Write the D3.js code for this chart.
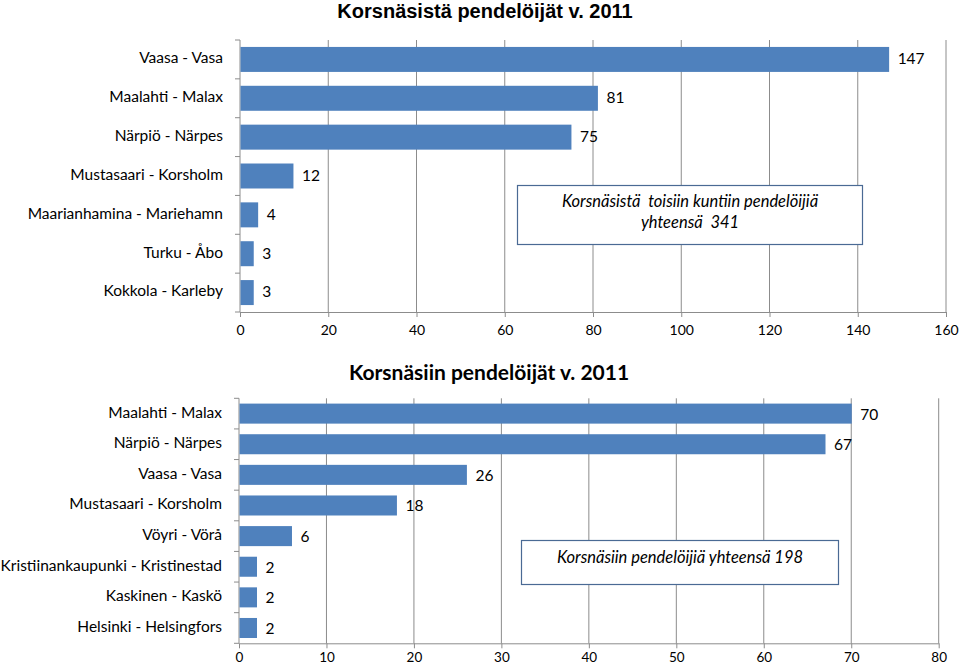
<!DOCTYPE html>
<html><head><meta charset="utf-8">
<script src="https://cdn.jsdelivr.net/npm/d3@7"></script>
<style>
body{margin:0;background:#fff;}
svg text{font-family:Lato,"Open Sans",sans-serif;fill:#000;}
</style></head>
<body>
<svg id="c" width="959" height="667"></svg>
<script>
// Chart 1: from Korsnäs
const title1 = "Korsnäsistä pendelöijät v. 2011";
const categories1 = ["Vaasa - Vasa","Maalahti - Malax","Närpiö - Närpes","Mustasaari - Korsholm","Maarianhamina - Mariehamn","Turku - Åbo","Kokkola - Karleby"];
const values1 = [147,81,75,12,4,3,3];
const ticks1 = [0,20,40,60,80,100,120,140,160];
const note1 = ["Korsnäsistä  toisiin kuntiin pendelöijiä","yhteensä  341"];

// Chart 2: to Korsnäs
const title2 = "Korsnäsiin pendelöijät v. 2011";
const categories2 = ["Maalahti - Malax","Närpiö - Närpes","Vaasa - Vasa","Mustasaari - Korsholm","Vöyri - Vörå","Kristiinankaupunki - Kristinestad","Kaskinen - Kaskö","Helsinki - Helsingfors"];
const values2 = [70,67,26,18,6,2,2,2];
const ticks2 = [0,10,20,30,40,50,60,70,80];
const note2 = ["Korsnäsiin pendelöijiä yhteensä 198"];

const svg = d3.select("#c");
const BAR = "#4F81BD", GRID = "#8C8C8C", BOX = "#4A6A94";

function drawChart(o){
  const g = svg.append("g");
  const x = d3.scaleLinear().domain([0, d3.max(o.ticks)]).range([o.x0, o.x1]);
  const y = d3.scaleBand().domain(o.cats).range([o.y0, o.y1]).paddingInner(o.pad).paddingOuter(o.pad/2);
  // title
  g.append("text").attr("x", o.tx).attr("y", o.ty).attr("text-anchor","middle")
    .style("font-family", o.tfont).style("font-weight","bold").style("font-size", o.tsize+"px").text(o.title);
  // gridlines
  g.selectAll(".grid").data(o.ticks.slice(1)).join("line")
    .attr("x1", d=>x(d)).attr("x2", d=>x(d)).attr("y1", o.y0).attr("y2", o.y1)
    .attr("stroke", GRID).attr("stroke-width",1);
  // x axis
  const xa = g.append("g").attr("transform",`translate(0,${o.y1})`)
    .call(d3.axisBottom(x).tickValues(o.ticks).tickSize(5).tickSizeOuter(0).tickPadding(o.tp));
  xa.select(".domain").attr("stroke", GRID);
  xa.selectAll(".tick line").attr("stroke", GRID);
  xa.selectAll(".tick text").style("font-size", o.tfs+"px").style("font-family","Lato,sans-serif").attr("fill","#000");
  // y axis line + boundary ticks
  g.append("line").attr("x1", o.x0).attr("x2", o.x0).attr("y1", o.y0).attr("y2", o.y1).attr("stroke", GRID);
  const bounds = d3.range(o.cats.length+1).map(i => o.y0 + i*(o.y1-o.y0)/o.cats.length);
  g.selectAll(".yt").data(bounds).join("line")
    .attr("x1", o.x0-5).attr("x2", o.x0).attr("y1", d=>d).attr("y2", d=>d).attr("stroke", GRID);
  // note box
  g.append("rect").attr("x", o.bx).attr("y", o.by).attr("width", o.bw).attr("height", o.bh)
    .attr("fill","#fff").attr("stroke", BOX).attr("stroke-width",1.2);
  o.note.forEach((t,i)=>{
    g.append("text").attr("x", o.bx+o.bw/2).attr("y", o.by+o.nty+i*21).attr("text-anchor","middle")
      .style("font-style","italic").style("font-size","16.5px").style("white-space","pre").text(t);
  });
  // bars
  const data = o.cats.map((c,i)=>({c, v:o.vals[i]}));
  g.selectAll(".bar").data(data).join("rect")
    .attr("x", x(0)+0.5).attr("y", d=>y(d.c)).attr("width", d=>x(d.v)-x(0)).attr("height", y.bandwidth())
    .attr("fill", BAR);
  // value labels
  g.selectAll(".vl").data(data).join("text")
    .attr("x", d=>x(d.v)+9).attr("y", d=>y(d.c)+y.bandwidth()/2+o.vdy).attr("dominant-baseline","middle")
    .style("font-size","15.5px").text(d=>d.v);
  // category labels
  g.selectAll(".cl").data(data).join("text")
    .attr("x", o.x0-17).attr("y", d=>y(d.c)+y.bandwidth()/2).attr("text-anchor","end").attr("dominant-baseline","middle")
    .style("font-size","15.5px").text(d=>d.c);
}

drawChart({title:title1, cats:categories1, vals:values1, ticks:ticks1, note:note1,
  x0:240, x1:946, y0:40, y1:312, pad:0.357, tx:485, ty:18, tsize:20, tfont:"'Liberation Sans',Arial,sans-serif",
  bx:517.5, by:185.5, bw:345, bh:59, nty:21, vdy:1, tp:8, tfs:14});
drawChart({title:title2, cats:categories2, vals:values2, ticks:ticks2, note:note2,
  x0:239, x1:938.7, y0:398.3, y1:643.3, pad:0.346, tx:489, ty:380, tsize:21, tfont:"Lato,sans-serif",
  bx:521.5, by:540.5, bw:317, bh:44, nty:22, vdy:2, tp:4, tfs:13.5});
</script>
</body></html>
